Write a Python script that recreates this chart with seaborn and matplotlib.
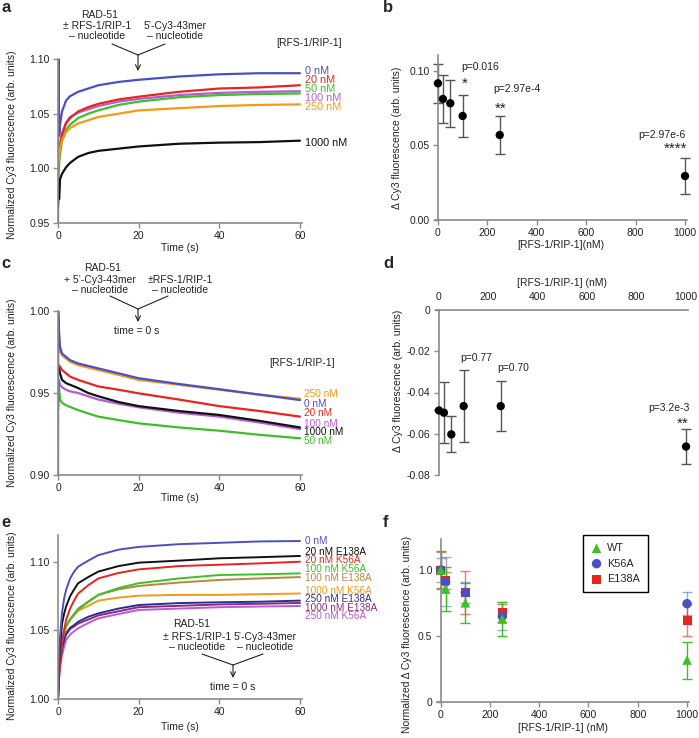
import matplotlib
matplotlib.use("Agg")
import matplotlib.pyplot as plt
from matplotlib.lines import Line2D
from matplotlib.patches import FancyArrowPatch
import pandas as pd
import seaborn as sns

# ---------------- data ----------------
# panel a: RAD-51 (+/- RFS-1/RIP-1) mixed with 5'-Cy3 ssDNA
time_a = [0, 0.1, 0.3, 0.5, 1, 2, 3, 5, 7.5, 10, 15, 20, 30, 40, 50, 60]
a_0 = [0.95, 1.10, 1.03, 1.04, 1.052, 1.062, 1.066, 1.070, 1.073, 1.076, 1.079, 1.081, 1.084, 1.086, 1.087, 1.087]
a_20 = [1.00, 1.005, 1.012, 1.020, 1.031, 1.041, 1.046, 1.052, 1.056, 1.059, 1.063, 1.0655, 1.070, 1.073, 1.074, 1.076]
a_50 = [0.99, 0.99, 1.005, 1.013, 1.025, 1.035, 1.040, 1.046, 1.050, 1.053, 1.058, 1.061, 1.065, 1.067, 1.068, 1.0685]
a_100 = [1.00, 1.005, 1.013, 1.021, 1.032, 1.042, 1.047, 1.051, 1.054, 1.057, 1.061, 1.0635, 1.067, 1.069, 1.070, 1.0705]
a_250 = [1.00, 1.005, 1.012, 1.018, 1.026, 1.033, 1.037, 1.041, 1.044, 1.047, 1.050, 1.053, 1.055, 1.057, 1.058, 1.0585]
a_1000 = [0.965, 0.975, 0.972, 0.990, 0.995, 1.001, 1.005, 1.0105, 1.014, 1.016, 1.018, 1.020, 1.0225, 1.0235, 1.024, 1.0253]
a_labels = ["0 nM", "20 nM", "50 nM", "100 nM", "250 nM", "1000 nM"]
a_label_y = [1.089, 1.0808, 1.0726, 1.0643, 1.0561, 1.0231]

# panel b: delta Cy3 fluorescence vs [RFS-1/RIP-1]
conc = [0, 20, 50, 100, 250, 1000]
b_mean = [0.0917, 0.0812, 0.0783, 0.0698, 0.0570, 0.0295]
b_sd = [0.013, 0.0163, 0.0157, 0.014, 0.0125, 0.0123]

# panel c: RAD-51 + ssDNA, then RFS-1/RIP-1 added
time_c = [0, 0.05, 0.2, 0.5, 1, 2, 3, 5, 7.5, 10, 15, 20, 30, 40, 50, 60]
c_0 = [0.90, 1.00, 0.990, 0.978, 0.974, 0.972, 0.970, 0.968, 0.9665, 0.965, 0.962, 0.959, 0.9555, 0.9523, 0.949, 0.9457]
c_20 = [0.966, 0.966, 0.967, 0.966, 0.964, 0.962, 0.960, 0.958, 0.956, 0.954, 0.952, 0.9498, 0.946, 0.942, 0.939, 0.9356]
c_50 = [0.940, 0.940, 0.955, 0.946, 0.944, 0.9425, 0.9415, 0.9396, 0.9375, 0.9356, 0.9335, 0.9315, 0.929, 0.927, 0.9245, 0.9224]
c_100 = [0.955, 0.955, 0.958, 0.955, 0.9535, 0.952, 0.951, 0.950, 0.948, 0.946, 0.9435, 0.9413, 0.938, 0.9356, 0.932, 0.928]
c_250 = [0.975, 0.975, 0.975, 0.976, 0.973, 0.971, 0.969, 0.967, 0.9655, 0.964, 0.961, 0.958, 0.955, 0.952, 0.949, 0.9465]
c_1000 = [0.962, 0.962, 0.966, 0.962, 0.958, 0.956, 0.955, 0.953, 0.950, 0.948, 0.9445, 0.942, 0.939, 0.9366, 0.933, 0.929]
c_labels = ["250 nM", "0 nM", "20 nM", "100 nM", "1000 nM", "50 nM"]
c_label_y = [0.9494, 0.9433, 0.9378, 0.9311, 0.9262, 0.9207]

# panel d
d_mean = [-0.0487, -0.0498, -0.0603, -0.0466, -0.0466, -0.0662]
d_sd = [0.0, 0.0147, 0.0087, 0.0173, 0.0121, 0.0083]

# panel e: mutants
time_e = [0, 0.25, 0.5, 1, 1.5, 2, 3, 4, 5, 7.5, 10, 15, 20, 30, 40, 50, 60]
e_0 = [1.00, 1.03, 1.045, 1.063, 1.073, 1.0796, 1.088, 1.093, 1.0966, 1.101, 1.105, 1.109, 1.111, 1.113, 1.114, 1.115, 1.1153]
e_20_e138a = [1.00, 1.025, 1.038, 1.055, 1.062, 1.0675, 1.075, 1.080, 1.0845, 1.089, 1.093, 1.097, 1.0995, 1.101, 1.1027, 1.1035, 1.1044]
e_20_k56a = [1.00, 1.015, 1.025, 1.040, 1.050, 1.0577, 1.066, 1.072, 1.077, 1.083, 1.088, 1.092, 1.0946, 1.097, 1.098, 1.099, 1.1002]
e_100_k56a = [1.00, 1.02, 1.03, 1.042, 1.048, 1.053, 1.058, 1.062, 1.066, 1.071, 1.076, 1.081, 1.0845, 1.088, 1.0905, 1.091, 1.0917]
e_100_e138a = [1.00, 1.02, 1.03, 1.042, 1.048, 1.053, 1.058, 1.062, 1.065, 1.071, 1.076, 1.080, 1.0825, 1.085, 1.0869, 1.088, 1.089]
e_1000_k56a = [1.00, 1.025, 1.035, 1.045, 1.050, 1.053, 1.058, 1.061, 1.0645, 1.068, 1.0718, 1.074, 1.0754, 1.076, 1.076, 1.0765, 1.077]
e_250_e138a = [1.00, 1.02, 1.028, 1.037, 1.043, 1.048, 1.052, 1.054, 1.0564, 1.060, 1.0625, 1.066, 1.0686, 1.070, 1.0706, 1.071, 1.0718]
e_1000_e138a = [1.00, 1.02, 1.028, 1.037, 1.043, 1.047, 1.051, 1.053, 1.055, 1.058, 1.061, 1.064, 1.067, 1.068, 1.069, 1.0695, 1.0701]
e_250_k56a = [1.00, 1.015, 1.023, 1.032, 1.038, 1.043, 1.047, 1.0495, 1.0516, 1.0555, 1.0589, 1.062, 1.065, 1.066, 1.067, 1.0675, 1.0679]
e_labels = ["0 nM", "20 nM E138A", "20 nM K56A", "100 nM K56A", "100 nM E138A",
            "1000 nM K56A", "250 nM E138A", "1000 nM E138A", "250 nM K56A"]
e_label_y = [1.1153, 1.1073, 1.1011, 1.0949, 1.0883, 1.0788, 1.073, 1.0664, 1.0606]

# panel f: normalized delta, WT vs mutants
f_conc = [0, 20, 100, 250, 1000]
f_wt = [1.0, 0.856, 0.752, 0.629, 0.318]
f_wt_sd = [0.145, 0.165, 0.15, 0.13, 0.14]
f_k56a = [1.0, 0.91, 0.83, 0.65, 0.745]
f_k56a_sd = [0.09, 0.185, 0.08, 0.105, 0.085]
f_e138a = [1.0, 0.92, 0.83, 0.675, 0.62]
f_e138a_sd = [0.14, 0.065, 0.16, 0.07, 0.12]

# ---------------- style ----------------
BLUE = "#4b4fc4"
RED = "#e8251c"
GREEN = "#3dbf28"
PURPLE = "#b65ad8"
ORANGE = "#f59a14"
BLACK = "#111111"
BROWN = "#b8873a"
NAVY = "#2d2d8f"
PLUM = "#8a2c7c"
VIOLET = "#b85cd6"
GRAY = "#8a8a8a"
TXT = "#222222"

sns.set_style("ticks")
plt.rcParams["font.family"] = ["Liberation Sans", "DejaVu Sans"]

W, H = 699, 738
fig = plt.figure(figsize=(W / 100, H / 100), dpi=100)


def rect(x0, x1, ytop, ybot):
    return [x0 / W, 1 - ybot / H, (x1 - x0) / W, (ybot - ytop) / H]


def fp(x, y):
    return (x / W, 1 - y / H)


def style(ax, top=False):
    if top:
        sns.despine(ax=ax, top=False, bottom=True)
        sides = ["left", "top"]
    else:
        sns.despine(ax=ax)
        sides = ["left", "bottom"]
    for s in sides:
        ax.spines[s].set_color(GRAY)
        ax.spines[s].set_linewidth(1.2)
    ax.tick_params(color=GRAY, length=3.5, width=1, labelsize=7.5, pad=2.5, labelcolor=TXT)


def set_labels(ax, xlabel, ylabel, xy, yy, ylx):
    ax.set_xlabel(xlabel, fontsize=7.5, color=TXT)
    ax.set_ylabel(ylabel, fontsize=7.5, color=TXT)
    ax.xaxis.set_label_coords(0.5, xy)
    ax.xaxis.label.set_verticalalignment("center")
    ax.yaxis.set_label_coords(ylx, yy)
    ax.yaxis.label.set_verticalalignment("center")


def traces(ax, t, series, colors, names, lw=1.6):
    rows = []
    for name, vals in zip(names, series):
        for ti, v in zip(t, vals):
            rows.append({"t": ti, "v": v, "cond": name})
    df = pd.DataFrame(rows)
    sns.lineplot(data=df, x="t", y="v", hue="cond", hue_order=names,
                 palette=dict(zip(names, colors)), legend=False, ax=ax,
                 linewidth=lw, estimator=None)


def bracket(x1, x2, xm, y1, y2, y3):
    # two converging lines and a downward arrow (pixel coords)
    for xs in (x1, x2):
        fig.add_artist(Line2D([xs / W, xm / W], [1 - y1 / H, 1 - y2 / H],
                              transform=fig.transFigure, color=TXT, lw=0.8))
    fig.add_artist(FancyArrowPatch(fp(xm, y2), fp(xm, y3), transform=fig.transFigure,
                                   arrowstyle="->", mutation_scale=9, color=TXT, lw=0.8,
                                   shrinkA=0, shrinkB=0))


def ftext(x, y, s, **kw):
    fig.text(*fp(x, y), s, fontsize=7.5, color=TXT, ha="center", va="center",
             linespacing=1.0, **kw)


# ---------------- panel a ----------------
ax = fig.add_axes(rect(58, 302, 59, 223))
a_colors = [BLUE, RED, GREEN, PURPLE, ORANGE, BLACK]
traces(ax, time_a, [a_0, a_100, a_50, a_20, a_250, a_1000],
       [BLUE, PURPLE, GREEN, RED, ORANGE, BLACK],
       ["0", "100", "50", "20", "250", "1000"])
ax.set_xlim(0, 60.5)
ax.set_ylim(0.95, 1.10)
ax.set_xticks([0, 20, 40, 60])
ax.set_yticks([0.95, 1.00, 1.05, 1.10])
ax.set_yticklabels(["0.95", "1.00", "1.05", "1.10"])
style(ax)
set_labels(ax, "Time (s)", "Normalized Cy3 fluorescence (arb. units)", -0.152, 0.48, -0.19)
for lab, y, c in zip(a_labels, a_label_y, a_colors):
    ax.text(61.3, y, lab, color=c, fontsize=7.8, va="center", clip_on=False)
ax.text(70.5, 1.1146, "[RFS-1/RIP-1]", fontsize=7.5, color=TXT, ha="right", va="center")

ftext(100, 15, "RAD-51")
ftext(97, 31, "± RFS-1/RIP-1\n– nucleotide")
ftext(175, 31, "5’-Cy3-43mer\n– nucleotide")
bracket(112, 165, 138, 44, 55, 71)

# ---------------- panel b ----------------
ax = fig.add_axes(rect(435, 687, 55, 220))
ax.errorbar(conc, b_mean, yerr=b_sd, fmt="none", ecolor="#555555", elinewidth=1,
            capsize=3.5, capthick=1, clip_on=False, zorder=2)
sns.scatterplot(x=conc, y=b_mean, color="black", s=36, edgecolor="none", ax=ax,
                zorder=3, clip_on=False)
ax.set_xlim(-12, 1008)
ax.set_ylim(0, 0.1107)
ax.spines["left"].set_position(("data", 0))
ax.set_xticks([0, 200, 400, 600, 800, 1000])
ax.set_yticks([0.0, 0.05, 0.10])
ax.set_yticklabels(["0.00", "0.05", "0.10"])
style(ax)
set_labels(ax, "[RFS-1/RIP-1](nM)", "Δ Cy3 fluorescence (arb. units)", -0.152, 0.5, -0.15)
ax.text(170, 0.1029, "p=0.016", fontsize=7.5, color=TXT, ha="center", va="center")
ax.text(108, 0.0915, "*", fontsize=11, color=TXT, ha="center", va="center")
ax.text(319, 0.0879, "p=2.97e-4", fontsize=7.5, color=TXT, ha="center", va="center")
ax.text(254, 0.0745, "**", fontsize=11, color=TXT, ha="center", va="center")
ax.text(907, 0.0570, "p=2.97e-6", fontsize=7.5, color=TXT, ha="center", va="center")
ax.text(960, 0.0478, "****", fontsize=11, color=TXT, ha="center", va="center")

# ---------------- panel c ----------------
ax = fig.add_axes(rect(58, 302, 311, 475))
traces(ax, time_c, [c_50, c_100, c_1000, c_20, c_250, c_0],
       [GREEN, PURPLE, BLACK, RED, ORANGE, BLUE],
       ["50", "100", "1000", "20", "250", "0"])
ax.set_xlim(0, 60.5)
ax.set_ylim(0.90, 1.00)
ax.set_xticks([0, 20, 40, 60])
ax.set_yticks([0.90, 0.95, 1.00])
ax.set_yticklabels(["0.90", "0.95", "1.00"])
style(ax)
set_labels(ax, "Time (s)", "Normalized Cy3 fluorescence (arb. units)", -0.14, 0.5, -0.19)
for lab, y, c in zip(c_labels, c_label_y, [ORANGE, BLUE, RED, PURPLE, BLACK, GREEN]):
    ax.text(61.0, y, lab, color=c, fontsize=7.2, va="center", clip_on=False)
ax.text(68.7, 0.9683, "[RFS-1/RIP-1]", fontsize=7.5, color=TXT, ha="right", va="center")

ftext(103, 268, "RAD-51")
ftext(100, 284.5, "+ 5’-Cy3-43mer\n– nucleotide")
ftext(180, 284.5, "±RFS-1/RIP-1\n– nucleotide")
bracket(110, 168, 138, 296, 309, 322)
ftext(137, 331, "time = 0 s")

# ---------------- panel d ----------------
ax = fig.add_axes(rect(436, 688, 310, 475))
ax.errorbar(conc, d_mean, yerr=d_sd, fmt="none", ecolor="#555555", elinewidth=1,
            capsize=3.5, capthick=1, clip_on=False, zorder=2)
sns.scatterplot(x=conc, y=d_mean, color="black", s=36, edgecolor="none", ax=ax,
                zorder=3, clip_on=False)
ax.set_xlim(-12, 1008)
ax.set_ylim(-0.08, 0)
ax.spines["left"].set_position(("data", 0))
ax.xaxis.tick_top()
ax.xaxis.set_label_position("top")
ax.set_xticks([0, 200, 400, 600, 800, 1000])
ax.set_yticks([0, -0.02, -0.04, -0.06, -0.08])
ax.set_yticklabels(["0", "-0.02", "-0.04", "-0.06", "-0.08"])
style(ax, top=True)
set_labels(ax, "[RFS-1/RIP-1] (nM)", "Δ Cy3 fluorescence (arb. units)", 1.164, 0.57, -0.15)
ax.text(149, -0.0234, "p=0.77", fontsize=7.5, color=TXT, ha="center", va="center")
ax.text(301, -0.0280, "p=0.70", fontsize=7.5, color=TXT, ha="center", va="center")
ax.text(930, -0.0474, "p=3.2e-3", fontsize=7.5, color=TXT, ha="center", va="center")
ax.text(988, -0.0550, "**", fontsize=11, color=TXT, ha="center", va="center")

# ---------------- panel e ----------------
ax = fig.add_axes(rect(58, 302, 535, 699))
e_series = [e_0, e_20_e138a, e_20_k56a, e_100_k56a, e_100_e138a,
            e_1000_k56a, e_250_e138a, e_1000_e138a, e_250_k56a]
e_colors = [BLUE, BLACK, RED, GREEN, BROWN, ORANGE, NAVY, PLUM, VIOLET]
traces(ax, time_e, e_series[::-1], e_colors[::-1], e_labels[::-1], lw=1.4)
ax.set_xlim(0, 60.5)
ax.set_ylim(1.00, 1.1197)
ax.set_xticks([0, 20, 40, 60])
ax.set_yticks([1.00, 1.05, 1.10])
ax.set_yticklabels(["1.00", "1.05", "1.10"])
style(ax)
set_labels(ax, "Time (s)", "Normalized Cy3 fluorescence (arb. units)", -0.17, 0.45, -0.19)
for lab, y, c in zip(e_labels, e_label_y, e_colors):
    ax.text(61.3, y, lab, color=c, fontsize=7.2, va="center", clip_on=False)

ftext(192, 624, "RAD-51")
ftext(197, 641.5, "± RFS-1/RIP-1\n– nucleotide")
ftext(265, 641.5, "5’-Cy3-43mer\n– nucleotide")
bracket(202, 263, 233, 654, 665, 678)
ftext(233, 687, "time = 0 s")

# ---------------- panel f ----------------
ax = fig.add_axes(rect(437, 689, 539, 702))
ax.errorbar(f_conc, f_e138a, yerr=f_e138a_sd, fmt="none", ecolor=RED, alpha=0.6,
            elinewidth=1, capsize=3.5, capthick=1, clip_on=False, zorder=2)
ax.errorbar(f_conc, f_k56a, yerr=f_k56a_sd, fmt="none", ecolor=BLUE, alpha=0.5,
            elinewidth=1, capsize=3.5, capthick=1, clip_on=False, zorder=2)
ax.errorbar(f_conc, f_wt, yerr=f_wt_sd, fmt="none", ecolor=GREEN, elinewidth=1,
            capsize=3.5, capthick=1, clip_on=False, zorder=2)
sns.scatterplot(x=f_conc, y=f_e138a, marker="s", color=RED, s=42, edgecolor="none",
                ax=ax, zorder=3, clip_on=False, label="E138A")
sns.scatterplot(x=f_conc, y=f_k56a, marker="o", color=BLUE, s=46, edgecolor="none",
                ax=ax, zorder=4, clip_on=False, label="K56A")
sns.scatterplot(x=f_conc, y=f_wt, marker="^", color=GREEN, s=48, edgecolor="none",
                ax=ax, zorder=5, clip_on=False, label="WT")
ax.set_xlim(-15, 1008)
ax.set_ylim(0, 1.235)
ax.spines["left"].set_position(("data", 0))
ax.set_xticks([0, 200, 400, 600, 800, 1000])
ax.set_yticks([0, 0.5, 1.0])
ax.set_yticklabels(["0", "0.5", "1.0"])
style(ax)
set_labels(ax, "[RFS-1/RIP-1] (nM)", "Normalized Δ Cy3 fluorescence (arb. units)", -0.16, 0.417, -0.12)
handles, labels = ax.get_legend_handles_labels()
order = [labels.index(k) for k in ["WT", "K56A", "E138A"]]
leg = ax.legend([handles[i] for i in order], [labels[i] for i in order],
                loc="upper left", bbox_to_anchor=fp(583, 535), bbox_transform=fig.transFigure,
                fontsize=7.8, frameon=True, fancybox=False, framealpha=1, edgecolor="black",
                handletextpad=0.5, handlelength=1.0, borderpad=0.75, labelspacing=0.5,
                borderaxespad=0)
leg.get_frame().set_linewidth(1.0)

# ---------------- panel letters ----------------
for letter, x, y in [("a", 1, 12), ("b", 383, 12), ("c", 1, 268),
                     ("d", 383, 268), ("e", 1, 527), ("f", 383, 527)]:
    fig.text(*fp(x, y), letter, fontsize=12, fontweight="bold", va="baseline", ha="left")

fig.savefig("out.png", dpi=100)
